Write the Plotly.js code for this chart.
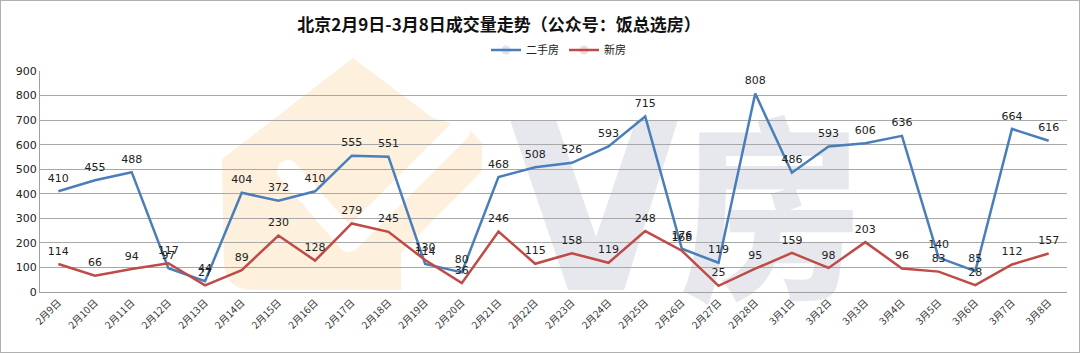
<!DOCTYPE html>
<html>
<head>
<meta charset="utf-8">
<script src="https://cdn.plot.ly/plotly-3.0.1.min.js"></script>
<style>
html,body{margin:0;padding:0;background:#fff;}
#chart{width:1078px;height:351px;border:1px solid #b0b0b0;}
</style>
</head>
<body>
<div id="chart"></div>
<script>
const categories = ["2月9日","2月10日","2月11日","2月12日","2月13日","2月14日","2月15日","2月16日","2月17日","2月18日","2月19日","2月20日","2月21日","2月22日","2月23日","2月24日","2月25日","2月26日","2月27日","2月28日","3月1日","3月2日","3月3日","3月4日","3月5日","3月6日","3月7日","3月8日"];
const secondHand = [410,455,488,97,44,404,372,410,555,551,114,80,468,508,526,593,715,176,119,808,486,593,606,636,140,85,664,616];
const newHomes = [114,66,94,117,27,89,230,128,279,245,130,36,246,115,158,119,248,168,25,95,159,98,203,96,83,28,112,157];
const yTicks = [0,100,200,300,400,500,600,700,800,900];

const W = 1078, H = 351, ML = 39, MR = 12, MT = 70, MB = 60;
const PW = W - ML - MR, PH = H - MT - MB;

// faint background watermark (house logo + "V房"), drawn in figure pixels
const wmSvg = `<svg xmlns="http://www.w3.org/2000/svg" width="${W}" height="${H}" viewBox="0 0 ${W} ${H}">
<path d="M352,57 L432,117 L468,128 L481,142 L481,170 L400,252 L400,289 L252,289 Q224,289 223,262 L221,158 Z" fill="#fdf0dd"/>
<polyline points="287,170 348,240 458,130" fill="none" stroke="#ffffff" stroke-width="22" stroke-linecap="round" stroke-linejoin="round"/>
<path d="M509,119 L555,119 L595,236 L635,119 L677,119 L623,289 L567,289 Z" fill="#e6e8ee"/>
<text x="679" y="282" font-family="Noto Sans CJK SC" font-weight="900" font-size="196" fill="#e6e8ee" textLength="182" lengthAdjust="spacingAndGlyphs">房</text>
</svg>`;
const wmSrc = "data:image/svg+xml;charset=utf-8," + encodeURIComponent(wmSvg);

const labelFont = {family:"DejaVu Sans, Verdana, sans-serif", size:11, color:"#222"};

const traces = [
  {x:categories, y:secondHand, name:"二手房", type:"scatter", mode:"lines+markers+text",
   line:{color:"#4A7EBB", width:2.5}, marker:{size:9, opacity:0, color:"#4A7EBB"},
   text:secondHand.map(String), textposition:"top center", textfont:labelFont, cliponaxis:false},
  {x:categories, y:newHomes, name:"新房", type:"scatter", mode:"lines+markers+text",
   line:{color:"#BE4B48", width:2.5}, marker:{size:9, opacity:0, color:"#BE4B48"},
   text:newHomes.map(String), textposition:"top center", textfont:labelFont, cliponaxis:false}
];

const layout = {
  width:W, height:H,
  margin:{l:ML, r:MR, t:MT, b:MB},
  paper_bgcolor:"#fff", plot_bgcolor:"rgba(0,0,0,0)",
  title:{text:"北京2月9日-3月8日成交量走势（公众号：饭总选房）", xref:"container", x:0.462, xanchor:"center",
         yref:"container", y:0.932, yanchor:"middle",
         font:{family:"Noto Sans CJK SC, sans-serif", size:17, color:"#111", weight:"bold"}},
  showlegend:true,
  legend:{orientation:"h", x:(486-40)/PW, xanchor:"left", y:1.095, yanchor:"middle",
          font:{family:"Noto Sans CJK SC, sans-serif", size:11, color:"#222"}, itemwidth:30, tracegroupgap:0},
  images:[{source:wmSrc, xref:"paper", yref:"paper", x:-ML/PW, y:1+MT/PH, sizex:W/PW, sizey:H/PH,
           xanchor:"left", yanchor:"top", sizing:"stretch", layer:"below"}],
  xaxis:{type:"category", range:[-0.5, categories.length-0.5], autorange:false, tickangle:-45, showgrid:false,
         showline:true, linecolor:"#a0a0a0", linewidth:1,
         ticks:"", automargin:false, tickfont:{family:"Noto Sans CJK SC, sans-serif", size:10, color:"#333"}, fixedrange:true},
  yaxis:{range:[0,900], autorange:false, tickvals:yTicks, ticktext:yTicks.map(String), showgrid:true, gridcolor:"#a8a8a8", gridwidth:1,
         showline:true, linecolor:"#a0a0a0", zeroline:false, ticks:"", automargin:false,
         tickfont:{family:"DejaVu Sans, Verdana, sans-serif", size:11, color:"#222"}, fixedrange:true}
};

Plotly.newPlot("chart", traces, layout, {displayModeBar:false, staticPlot:true});
</script>
</body>
</html>
